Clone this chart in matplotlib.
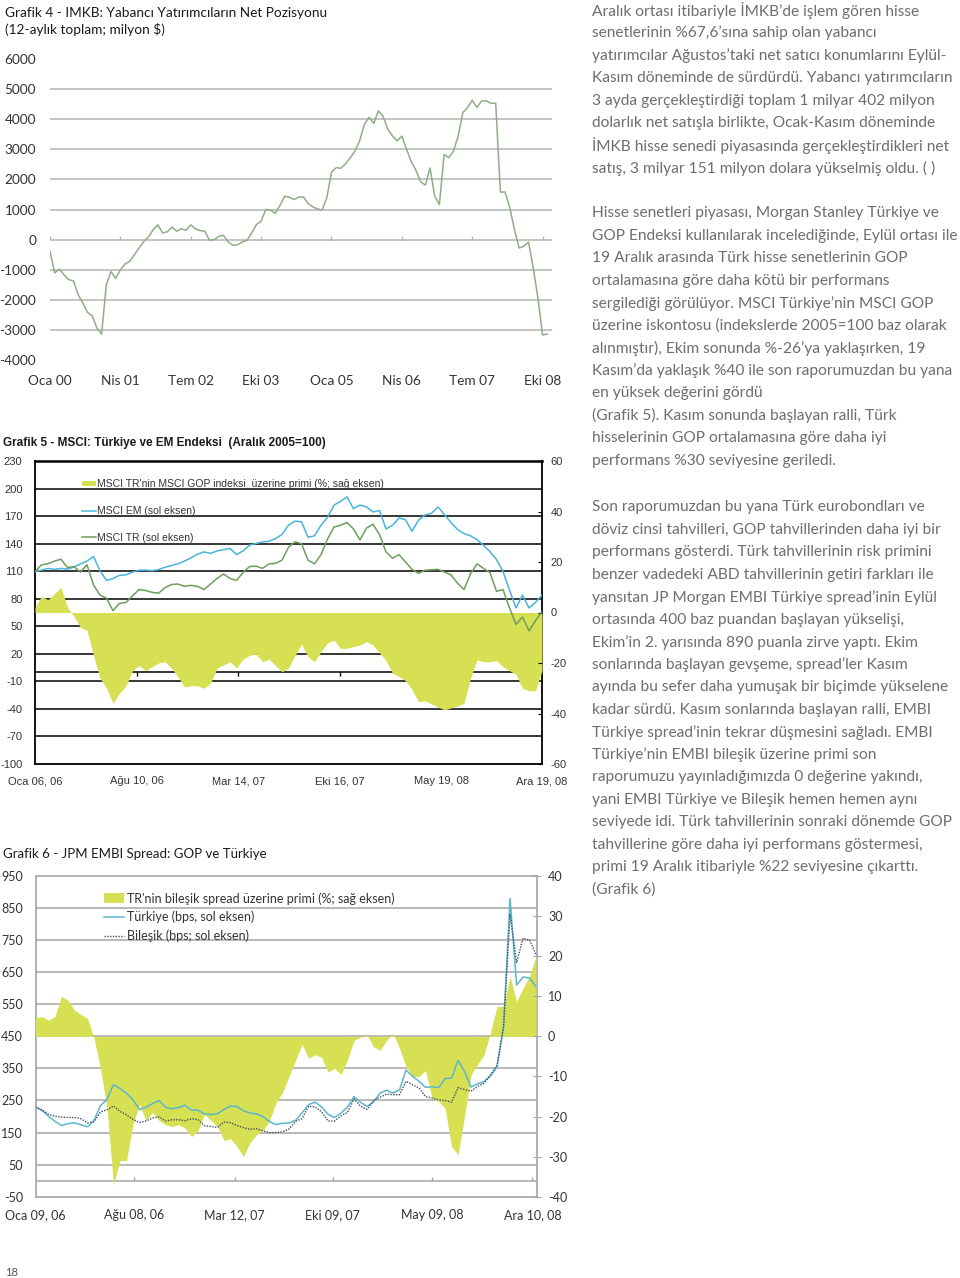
import numpy as np
import pandas as pd
from matplotlib import pyplot as plt
from matplotlib.patches import Patch
from matplotlib.lines import Line2D

plt.rcParams['font.family'] = ['Lato', 'DejaVu Sans']
plt.rcParams['axes.unicode_minus'] = False
NARROW = ['Liberation Sans Narrow', 'Liberation Sans', 'DejaVu Sans']

# Grafik 4 - IMKB yabanci net pozisyon (12 aylik toplam, milyon $), Oca 00 - Kas 08
net_position = [-390, -1110, -980, -1170, -1330, -1370, -1830, -2110, -2420, -2530,
                -2940, -3140, -1500, -1060, -1290, -1000, -810, -720, -500, -280,
                -60, 90, 330, 490, 220, 260, 410, 280, 360, 310,
                490, 360, 300, 280, -20, 0, 110, 140, -80, -190,
                -170, -80, -20, 220, 500, 610, 1000, 980, 870, 1130,
                1440, 1410, 1330, 1410, 1420, 1200, 1090, 1020, 980, 1390,
                2240, 2390, 2370, 2520, 2720, 2940, 3280, 3830, 4060, 3860,
                4280, 4090, 3670, 3440, 3280, 3440, 3000, 2590, 2300, 1920,
                1810, 2380, 1440, 1170, 2830, 2720, 2940, 3440, 4220, 4390,
                4630, 4390, 4610, 4610, 4530, 4530, 1580, 1580, 1060, 330,
                -280, -220, -80, -940, -1940, -3170, -3140]
g4_ticks = [0, 15, 30, 45, 60, 75, 90, 105]
g4_labels = ['Oca 00', 'Nis 01', 'Tem 02', 'Eki 03', 'Oca 05', 'Nis 06', 'Tem 07', 'Eki 08']

# Grafik 5 - MSCI Turkiye ve EM (Aralik 2005=100), iki haftalik
g5_dates = pd.date_range('2006-01-06', '2008-12-19', periods=79)
msci_em = [109.4, 111.2, 113, 112, 113, 112.3, 114.5, 118, 121, 126,
           110.5, 100, 102, 105.5, 106, 109, 111, 111.2, 110.6, 111.7,
           114.2, 116.2, 118, 121, 124.5, 128.5, 131, 129.4, 132, 133.5,
           134.8, 128, 132, 138.3, 140.2, 141.8, 142.7, 145.5, 150, 160,
           164.5, 163.8, 147, 148.5, 160, 168.5, 182, 186, 191, 178,
           182, 180, 174.5, 176, 156, 160, 168, 166, 153.5, 165.5,
           171.2, 173, 180, 171.5, 163, 155.5, 151, 148.5, 144.5, 138.3,
           131.2, 122.8, 109.6, 89.5, 70, 84, 70, 76, 84]
msci_tr = [109.4, 117, 118, 121, 123, 114, 115, 109, 117, 95,
           84, 80.5, 67, 75, 76, 83, 90, 89, 87, 86,
           92, 95.5, 96, 93.5, 94.5, 93.5, 90, 96, 102, 107,
           102, 100, 108.5, 115, 115.5, 113, 118, 118.5, 122, 136,
           142, 140, 122, 118, 128, 145, 158, 160, 163, 156,
           144, 157, 161, 150, 131, 124, 128, 120, 112, 107.6,
           111, 111.5, 112, 109, 106, 97, 90, 107, 118, 113,
           108.5, 88, 90, 70, 52, 60, 45, 56, 66]
msci_premium = [2, 6.5, 5, 7.5, 10, 2, -1.5, -6, -7, -17,
                -26, -30, -36, -32, -29, -23, -21, -23, -21.5, -20,
                -19.5, -22, -25.5, -29.5, -29, -29, -30, -28, -22, -20.8,
                -19.5, -22, -18.5, -17, -16.5, -19.5, -18.5, -21, -23.5, -22,
                -17, -12.5, -17.5, -19.5, -15.5, -12, -11, -14.2, -14.2, -13.5,
                -12.9, -11.5, -12.9, -16, -19, -24, -25.3, -27, -30.5, -35.3,
                -35, -36.2, -37.5, -38.5, -37.8, -37, -36, -26, -18.8, -19.5,
                -19.5, -19, -21.5, -23, -24.5, -30, -31, -31, -23]
g5_ticks = pd.to_datetime(['2006-01-06', '2006-08-10', '2007-03-14',
                           '2007-10-16', '2008-05-19', '2008-12-19'])
g5_labels = ['Oca 06, 06', 'Ağu 10, 06', 'Mar 14, 07', 'Eki 16, 07', 'May 19, 08', 'Ara 19, 08']
g5_legend = ["MSCI TR'nin MSCI GOP indeksi  üzerine primi (%; sağ eksen)",
             'MSCI EM (sol eksen)', 'MSCI TR (sol eksen)']

# Grafik 6 - JPM EMBI spread, iki haftalik
g6_dates = pd.date_range('2006-01-09', '2008-12-18', periods=78)
embi_tr = [229, 219, 201, 185, 172, 178, 180, 174, 168, 188,
           234, 253, 300, 287, 273, 252, 222, 229, 240, 250,
           229, 224, 228, 235, 220, 220, 208, 206, 209, 222,
           233, 231, 218, 211, 208, 200, 184, 175, 179, 180,
           188, 211, 237, 245, 230, 207, 197, 211, 230, 262,
           244, 232, 245, 273, 282, 273, 283, 345, 325, 310,
           291, 293, 290, 318, 320, 375, 340, 292, 302, 309,
           327, 355, 480, 880, 610, 635, 632, 605]
embi_composite = [230, 221, 207, 201, 198, 197, 197, 193, 180, 184,
                  214, 221, 233, 216, 205, 191, 181, 186, 195, 199,
                  186, 190, 190, 187, 193, 190, 171, 169, 166, 183,
                  181, 172, 165, 160, 162, 155, 150, 150, 152, 161,
                  185, 193, 232, 230, 215, 186, 186, 202, 213, 255,
                  232, 222, 250, 260, 270, 268, 268, 310, 299, 289,
                  262, 258, 252, 250, 245, 290, 284, 279, 294, 304,
                  330, 360, 480, 830, 680, 756, 750, 705]
embi_premium = [4.6, 5, 4, 5, 10, 9, 6.5, 5.4, 4.5, -0.4,
                -8, -17.9, -37, -31, -31, -22, -17, -21, -19, -21,
                -22, -22.5, -22, -22.9, -25, -23.5, -19.5, -21, -22.5, -26,
                -25.5, -27.5, -30, -26.5, -24.5, -23.5, -21, -16.5, -14, -10,
                -6, -2, -5.5, -4.6, -5.2, -8.9, -8, -9.5, -5.8, -1,
                -0.2, 0.3, -2.6, -3.5, -1, 0.8, -3, -7.5, -10, -10,
                -8.5, -15.4, -16.2, -17.9, -27.5, -29.5, -20, -9.6, -7, -4.6,
                1, 7.5, 7.5, 15, 8.7, 12, 15, 20]
g6_ticks = pd.to_datetime(['2006-01-09', '2006-08-08', '2007-03-12',
                           '2007-10-09', '2008-05-09', '2008-12-10'])
g6_labels = ['Oca 09, 06', 'Ağu 08, 06', 'Mar 12, 07', 'Eki 09, 07', 'May 09, 08', 'Ara 10, 08']
g6_legend = ["TR'nin bileşik spread üzerine primi (%; sağ eksen)",
             'Türkiye (bps, sol eksen)', 'Bileşik (bps; sol eksen)']

para1 = ["Aralık ortası itibariyle İMKB’de işlem gören hisse",
         "senetlerinin %67,6’sına sahip olan yabancı",
         "yatırımcılar Ağustos’taki net satıcı konumlarını Eylül-",
         "Kasım döneminde de sürdürdü. Yabancı yatırımcıların",
         "3 ayda gerçekleştirdiği toplam 1 milyar 402 milyon",
         "dolarlık net satışla birlikte, Ocak-Kasım döneminde",
         "İMKB hisse senedi piyasasında gerçekleştirdikleri net",
         "satış, 3 milyar 151 milyon dolara yükselmiş oldu. ( )"]
para2 = ["Hisse senetleri piyasası, Morgan Stanley Türkiye ve",
         "GOP Endeksi kullanılarak incelediğinde, Eylül ortası ile",
         "19 Aralık arasında Türk hisse senetlerinin GOP",
         "ortalamasına göre daha kötü bir performans",
         "sergilediği görülüyor. MSCI Türkiye’nin MSCI GOP",
         "üzerine iskontosu (indekslerde 2005=100 baz olarak",
         "alınmıştır), Ekim sonunda %-26’ya yaklaşırken, 19",
         "Kasım’da yaklaşık %40 ile son raporumuzdan bu yana",
         "en yüksek değerini gördü",
         "(Grafik 5). Kasım sonunda başlayan ralli, Türk",
         "hisselerinin GOP ortalamasına göre daha iyi",
         "performans %30 seviyesine geriledi."]
para3 = ["Son raporumuzdan bu yana Türk eurobondları ve",
         "döviz cinsi tahvilleri, GOP tahvillerinden daha iyi bir",
         "performans gösterdi. Türk tahvillerinin risk primini",
         "benzer vadedeki ABD tahvillerinin getiri farkları ile",
         "yansıtan JP Morgan EMBI Türkiye spread’inin Eylül",
         "ortasında 400 baz puandan başlayan yükselişi,",
         "Ekim’in 2. yarısında 890 puanla zirve yaptı. Ekim",
         "sonlarında başlayan gevşeme, spread’ler Kasım",
         "ayında bu sefer daha yumuşak bir biçimde yükselene",
         "kadar sürdü. Kasım sonlarında başlayan ralli, EMBI",
         "Türkiye spread’inin tekrar düşmesini sağladı. EMBI",
         "Türkiye’nin EMBI bileşik üzerine primi son",
         "raporumuzu yayınladığımızda 0 değerine yakındı,",
         "yani EMBI Türkiye ve Bileşik hemen hemen aynı",
         "seviyede idi. Türk tahvillerinin sonraki dönemde GOP",
         "tahvillerine göre daha iyi performans göstermesi,",
         "primi 19 Aralık itibariyle %22 seviyesine çıkarttı.",
         "(Grafik 6)"]

LIME = '#d6e052'
W, H = 960, 1278
fig = plt.figure(figsize=(W / 100, H / 100), dpi=100)


def px_axes(left, top, right, bottom):
    return fig.add_axes([left / W, 1 - bottom / H, (right - left) / W, (bottom - top) / H])


def px_text(x, y, s, **kw):
    return fig.text(x / W, 1 - y / H, s, **kw)


# ---------------- Grafik 4
px_text(5, 13, 'Grafik 4 - IMKB: Yabancı Yatırımcıların Net Pozisyonu', va='center', fontsize=9.8, color='#1a1a1a')
px_text(5, 30, '(12-aylık toplam; milyon $)', va='center', fontsize=9.8, color='#1a1a1a')
ax = px_axes(50, 59, 552, 360)
ax.plot(range(len(net_position)), net_position, color='#8fae86', lw=1.1, zorder=3)
ax.set_xlim(0, 107)
ax.set_ylim(-4000, 6000)
ax.set_yticks(range(-4000, 6001, 1000))
for v in range(-3000, 5001, 1000):
    ax.axhline(v, color='#b4b4b4', lw=1.1, zorder=1)
ax.vlines(g4_ticks, 0, 130, color='#b4b4b4', lw=1, zorder=1)
ax.set_xticks(g4_ticks, g4_labels)
for s in ax.spines.values():
    s.set_visible(False)
ax.tick_params(length=0, labelsize=9.8, labelcolor='#333333')
ax.tick_params(axis='y', pad=10)
ax.tick_params(axis='x', pad=11)

# ---------------- Grafik 5
px_text(3, 443, 'Grafik 5 - MSCI: Türkiye ve EM Endeksi  (Aralık 2005=100)', va='center',
        fontsize=8.5, fontweight='bold', family=NARROW, color='#1a1a1a')
ax5 = px_axes(35, 461, 542, 764)
ax5.set_xlim(g5_ticks[0], g5_ticks[-1])
ax5.set_ylim(-100, 230)
ax5.set_yticks(range(-100, 231, 30))
for v in range(-70, 201, 30):
    ax5.axhline(v, color='black', lw=1.1)
ax5.axhline(0, color='black', lw=1.1)
ax5.vlines(g5_ticks[1:-1], -4, 0, color='black', lw=1)
ax5.set_xticks(g5_ticks, g5_labels)
for s in ax5.spines.values():
    s.set_color('black')
    s.set_linewidth(1.3)
ax5.spines['top'].set_linewidth(1.8)
ax5.tick_params(length=0, labelsize=8, labelcolor='#333333')
ax5.tick_params(axis='y', pad=9)
ax5.tick_params(axis='x', pad=9)

ax5r = ax5.twinx()
ax5r.fill_between(g5_dates, 0, msci_premium, color=LIME, lw=0)
ax5r.set_ylim(-60, 60)
ax5r.set_yticks(range(-60, 61, 20))
ax5r.tick_params(direction='in', length=3, color='black', labelsize=8, labelcolor='#333333', pad=6)
for s in ax5r.spines.values():
    s.set_visible(False)

ax5t = ax5.twinx()
ax5t.set_ylim(ax5.get_ylim())
ax5t.plot(g5_dates, msci_em, color='#4ab3dd', lw=1.1)
ax5t.plot(g5_dates, msci_tr, color='#6e9e5e', lw=1.1)
ax5t.set_yticks([])
for s in ax5t.spines.values():
    s.set_visible(False)
h5 = [Patch(facecolor=LIME, edgecolor='none'),
      Line2D([], [], color='#4ab3dd', lw=1.1),
      Line2D([], [], color='#6e9e5e', lw=1.1)]
leg = ax5t.legend(h5, g5_legend, loc='upper left', bbox_to_anchor=(0.093, 0.94), frameon=False,
                  borderpad=0, borderaxespad=0, handlelength=1.35, handleheight=0.5,
                  handletextpad=0.1, labelspacing=1.6, prop={'family': NARROW, 'size': 7.5})
for t in leg.get_texts():
    t.set_color('#333333')

for lbl in ax5.get_xticklabels() + ax5.get_yticklabels() + ax5r.get_yticklabels():
    lbl.set_family(NARROW)

# ---------------- Grafik 6
px_text(3, 854, 'Grafik 6 - JPM EMBI Spread: GOP ve Türkiye', va='center', fontsize=9.5, color='#1a1a1a')
ax6 = px_axes(35.5, 876, 537, 1196.7)
ax6.set_xlim(g6_ticks[0], pd.Timestamp('2008-12-20'))
ax6.set_ylim(-50, 950)
ax6.set_yticks(range(-50, 951, 100))
for v in range(50, 851, 100):
    ax6.axhline(v, color='#a6a6a6', lw=1.1)
ax6.axhline(0, color='#a6a6a6', lw=1.1)
ax6.vlines(g6_ticks[1:], 0, 12, color='#a6a6a6', lw=1)
ax6.set_xticks(g6_ticks, g6_labels)
for s in ax6.spines.values():
    s.set_color('#a6a6a6')
    s.set_linewidth(1.2)
ax6.tick_params(length=0, labelsize=9, labelcolor='#333333')
ax6.tick_params(axis='y', pad=9)
ax6.tick_params(axis='x', pad=9)

ax6r = ax6.twinx()
ax6r.fill_between(g6_dates, 0, embi_premium, color=LIME, lw=0)
ax6r.set_ylim(-40, 40)
ax6r.set_yticks(range(-40, 41, 10))
ax6r.tick_params(direction='inout', length=6, color='#a6a6a6', labelsize=9, labelcolor='#333333', pad=5)
for s in ax6r.spines.values():
    s.set_visible(False)

ax6t = ax6.twinx()
ax6t.set_ylim(ax6.get_ylim())
ax6t.plot(g6_dates, embi_tr, color='#5cb6cf', lw=1.1)
ax6t.plot(g6_dates, embi_composite, color='#414d69', lw=1.0, ls=(0, (1, 1)))
ax6t.set_yticks([])
for s in ax6t.spines.values():
    s.set_visible(False)
h6 = [Patch(facecolor=LIME, edgecolor='none'),
      Line2D([], [], color='#5cb6cf', lw=1.1),
      Line2D([], [], color='#414d69', lw=1.0, ls=(0, (1, 1)))]
leg6 = ax6t.legend(h6, g6_legend, loc='upper left', bbox_to_anchor=(0.137, 0.95), frameon=False,
                   borderpad=0, borderaxespad=0, handlelength=1.6, handleheight=0.8,
                   handletextpad=0.25, labelspacing=0.5, prop={'size': 9})
for t in leg6.get_texts():
    t.set_color('#333333')

# ---------------- metin
body = dict(fontsize=11.2, color='#6e6e6e', va='center')
for y0, lines in [(10.5, para1), (213, para2), (507, para3)]:
    for i, line in enumerate(lines):
        px_text(592, y0 + i * 22.53, line, **body)

px_text(5, 1272, '18', va='center', fontsize=8, color='#555555')

fig.savefig('out.png', dpi=100)
